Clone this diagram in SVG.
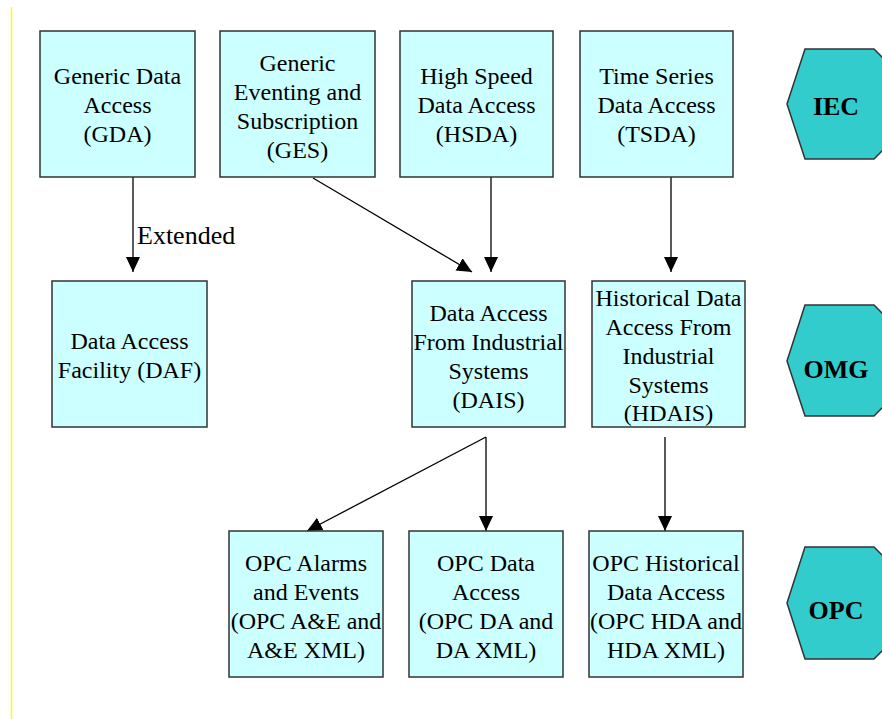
<svg xmlns="http://www.w3.org/2000/svg" width="882" height="719" viewBox="0 0 882 719">
<style>
.box{fill:#CCFFFF;stroke:#333;stroke-width:1.5}
.hex{fill:#33CCCC;stroke:#333;stroke-width:1.5}
text{font-family:'Liberation Serif','Times New Roman',Times,serif;fill:#000}
.t{font-size:24px;text-anchor:middle}
.e{font-size:26px}
.h{font-size:26px;font-weight:bold;text-anchor:middle}
.c{stroke:#000;stroke-width:1.3;fill:none;marker-end:url(#ah)}
</style>
<defs>
<marker id="ah" markerWidth="16" markerHeight="16" refX="15" refY="7" orient="auto" markerUnits="userSpaceOnUse">
<path d="M0,0 L15,7 L0,14 Z" fill="#000"/>
</marker>
</defs>
<rect width="882" height="719" fill="#fff"/>
<line x1="11.5" y1="7" x2="11.5" y2="719" stroke="#ffff00" stroke-width="1.5"/>
<g id="connectors">
<line class="c" x1="133" y1="177" x2="133" y2="272"/>
<line class="c" x1="313" y1="178" x2="472" y2="272"/>
<line class="c" x1="491" y1="177" x2="491" y2="272"/>
<line class="c" x1="671" y1="177" x2="671" y2="272"/>
<line class="c" x1="486" y1="437" x2="307" y2="531"/>
<line class="c" x1="486" y1="437" x2="486" y2="531"/>
<line class="c" x1="665" y1="437" x2="665" y2="531"/>
<text class="e" x="137" y="244">Extended</text>
</g>
<g id="gda"><rect class="box" x="40" y="31" width="155" height="146"/>
<text class="t" x="117.5" y="84">Generic Data</text><text class="t" x="117.5" y="113">Access</text><text class="t" x="117.5" y="142">(GDA)</text></g>
<g id="ges"><rect class="box" x="220" y="31" width="155" height="146"/>
<text class="t" x="297.5" y="71">Generic</text><text class="t" x="297.5" y="100">Eventing and</text><text class="t" x="297.5" y="129">Subscription</text><text class="t" x="297.5" y="158">(GES)</text></g>
<g id="hsda"><rect class="box" x="400" y="31" width="153" height="146"/>
<text class="t" x="476.5" y="84">High Speed</text><text class="t" x="476.5" y="113">Data Access</text><text class="t" x="476.5" y="142">(HSDA)</text></g>
<g id="tsda"><rect class="box" x="580" y="31" width="153" height="146"/>
<text class="t" x="656.5" y="84">Time Series</text><text class="t" x="656.5" y="113">Data Access</text><text class="t" x="656.5" y="142">(TSDA)</text></g>
<g id="daf"><rect class="box" x="52" y="281" width="155" height="146"/>
<text class="t" x="129.5" y="349">Data Access</text><text class="t" x="129.5" y="378">Facility (DAF)</text></g>
<g id="dais"><rect class="box" x="412" y="281" width="153" height="146"/>
<text class="t" x="488.5" y="321">Data Access</text><text class="t" x="488.5" y="350">From Industrial</text><text class="t" x="488.5" y="379">Systems</text><text class="t" x="488.5" y="408">(DAIS)</text></g>
<g id="hdais"><rect class="box" x="592" y="281" width="153" height="146"/>
<text class="t" x="668.5" y="306">Historical Data</text><text class="t" x="668.5" y="335">Access From</text><text class="t" x="668.5" y="364">Industrial</text><text class="t" x="668.5" y="393">Systems</text><text class="t" x="668.5" y="421">(HDAIS)</text></g>
<g id="opcae"><rect class="box" x="229" y="531" width="154" height="146"/>
<text class="t" x="306" y="571">OPC Alarms</text><text class="t" x="306" y="600">and Events</text><text class="t" x="306" y="629">(OPC A&amp;E and</text><text class="t" x="306" y="658">A&amp;E XML)</text></g>
<g id="opcda"><rect class="box" x="409" y="531" width="154" height="146"/>
<text class="t" x="486" y="571">OPC Data</text><text class="t" x="486" y="600">Access</text><text class="t" x="486" y="629">(OPC DA and</text><text class="t" x="486" y="658">DA XML)</text></g>
<g id="opchda"><rect class="box" x="589" y="531" width="154" height="146"/>
<text class="t" x="666" y="571">OPC Historical</text><text class="t" x="666" y="600">Data Access</text><text class="t" x="666" y="629">(OPC HDA and</text><text class="t" x="666" y="658">HDA XML)</text></g>
<g id="iec"><polygon class="hex" points="787,104 805,49 874,49 892,67 892,141 874,159 805,159"/>
<text class="h" x="836" y="115">IEC</text></g>
<g id="omg"><polygon class="hex" points="787,361 805,305 874,305 892,323 892,398 874,416 805,416"/>
<text class="h" x="836" y="378">OMG</text></g>
<g id="opc"><polygon class="hex" points="787,603 805,547 874,547 892,565 892,641 874,659 805,659"/>
<text class="h" x="836" y="619">OPC</text></g>
</svg>
